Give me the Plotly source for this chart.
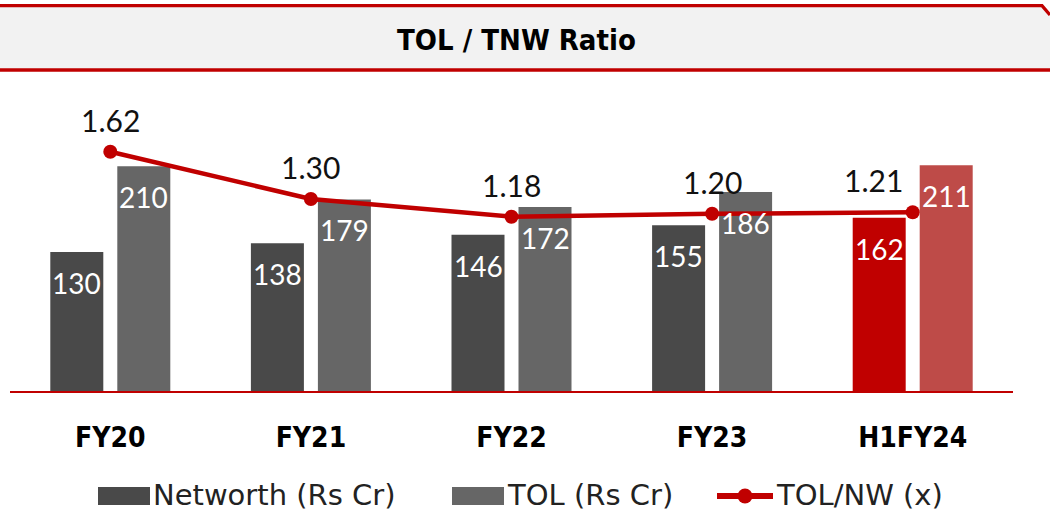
import plotly.graph_objects as go

categories = ["FY20", "FY21", "FY22", "FY23", "H1FY24"]
networth = [130, 138, 146, 155, 162]
tol = [210, 179, 172, 186, 211]
ratio = [1.62, 1.30, 1.18, 1.20, 1.21]
ratio_labels = ["1.62", "1.30", "1.18", "1.20", "1.21"]

title_text = "TOL / TNW Ratio"
legend_names = ["Networth (Rs Cr)", "TOL (Rs Cr)", "TOL/NW (x)"]

NW_COLORS = ["#494949"] * 4 + ["#C00000"]
TOL_COLORS = ["#666666"] * 4 + ["#BE4B48"]
RED = "#C00000"

W, H = 1050, 515
ML, MR, MT, MB = 10, 37, 80, 124
PW = W - ML - MR
PH = H - MT - MB

LABEL_FONT = "Lato, 'Open Sans', sans-serif"
LEGEND_FONT = "'DejaVu Sans', sans-serif"
BOLD_FONT = "'DejaVu Sans Condensed', 'DejaVu Sans', sans-serif"


def px(x):
    return (x - ML) / PW


def py(y):
    return (H - MB - y) / PH


fig = go.Figure()
fig.add_trace(go.Bar(x=categories, y=networth, name=legend_names[0],
                     marker=dict(color=NW_COLORS, line=dict(width=0)),
                     showlegend=False))
fig.add_trace(go.Bar(x=categories, y=tol, name=legend_names[1],
                     marker=dict(color=TOL_COLORS, line=dict(width=0)),
                     showlegend=False))
fig.add_trace(go.Scatter(x=categories, y=ratio, name=legend_names[2], yaxis="y2",
                         mode="lines+markers",
                         line=dict(color=RED, width=4.5),
                         marker=dict(color=RED, size=14),
                         showlegend=False))

annotations = []
for c, v in zip(categories, networth):
    annotations.append(dict(x=c, y=v, xref="x", yref="y", text=str(v), showarrow=False,
                            xshift=-33.5, yshift=-31, yanchor="middle",
                            font=dict(family=LABEL_FONT, size=28, color="white")))
for c, v in zip(categories, tol):
    annotations.append(dict(x=c, y=v, xref="x", yref="y", text=str(v), showarrow=False,
                            xshift=33.5, yshift=-31, yanchor="middle",
                            font=dict(family=LABEL_FONT, size=28, color="white")))
for i, (c, v, t) in enumerate(zip(categories, ratio, ratio_labels)):
    annotations.append(dict(x=c, y=v, xref="x", yref="y2", text=t, showarrow=False,
                            xshift=-39 if i == len(categories) - 1 else 0,
                            yshift=32, yanchor="middle",
                            font=dict(family=LABEL_FONT, size=30, color="#111111")))

# title
annotations.append(dict(x=px(516), y=py(40), xref="paper", yref="paper", text="<b>" + title_text + "</b>",
                        showarrow=False, xanchor="center", yanchor="middle",
                        font=dict(family=BOLD_FONT, size=29, color="black")))

# legend texts
leg_text_x = [151, 505, 774]
for name, lx in zip(legend_names, leg_text_x):
    annotations.append(dict(x=px(lx), y=py(495), xref="paper", yref="paper", text=name,
                            showarrow=False, xanchor="left", yanchor="middle",
                            font=dict(family=LEGEND_FONT, size=29, color="#222222")))

shapes = [
    # title box
    dict(type="path", xref="paper", yref="paper",
         path=f"M {px(0)},{py(5)} L {px(1042)},{py(5)} L {px(1050)},{py(14)} L {px(1050)},{py(70)} L {px(0)},{py(70)} Z",
         fillcolor="#F2F2F2", line=dict(width=0), layer="below"),
    dict(type="path", xref="paper", yref="paper",
         path=f"M {px(0)},{py(5.7)} L {px(1042)},{py(5.7)} L {px(1050)},{py(15)}",
         line=dict(color=RED, width=3.3)),
    dict(type="line", xref="paper", yref="paper", x0=px(0), x1=px(1050), y0=py(70), y1=py(70),
         line=dict(color=RED, width=3.3)),
    # legend swatches
    dict(type="rect", xref="paper", yref="paper", x0=px(98), x1=px(150), y0=py(505), y1=py(487),
         fillcolor=NW_COLORS[0], line=dict(width=0)),
    dict(type="rect", xref="paper", yref="paper", x0=px(452), x1=px(504), y0=py(505), y1=py(487),
         fillcolor=TOL_COLORS[0], line=dict(width=0)),
    dict(type="line", xref="paper", yref="paper", x0=px(717), x1=px(773), y0=py(496), y1=py(496),
         line=dict(color=RED, width=6)),
    dict(type="circle", xref="paper", yref="paper", x0=px(737.5), x1=px(752.5), y0=py(503.5), y1=py(488.5),
         fillcolor=RED, line=dict(width=0)),
]

fig.update_layout(
    width=W, height=H,
    margin=dict(l=ML, r=MR, t=MT, b=MB, pad=0),
    paper_bgcolor="white", plot_bgcolor="white",
    barmode="group", bargap=0.332, bargroupgap=0.209,
    showlegend=False,
    hovermode=False,
    xaxis=dict(type="category", showgrid=False, zeroline=False,
               showline=True, linecolor=RED, linewidth=2,
               ticks="", ticklabelstandoff=20,
               tickfont=dict(family=BOLD_FONT, size=28, color="black"),
               tickprefix="<b>", ticksuffix="</b>"),
    yaxis=dict(range=[0, PH / 1.07], visible=False, showgrid=False, zeroline=False),
    yaxis2=dict(range=[0, PH / 147.7], overlaying="y", side="right", visible=False,
                showgrid=False, zeroline=False),
    annotations=annotations,
    shapes=shapes,
)

fig.write_html("out.html", config={"displayModeBar": False},
               post_script="document.body.style.margin='0';document.body.style.overflow='hidden';")
